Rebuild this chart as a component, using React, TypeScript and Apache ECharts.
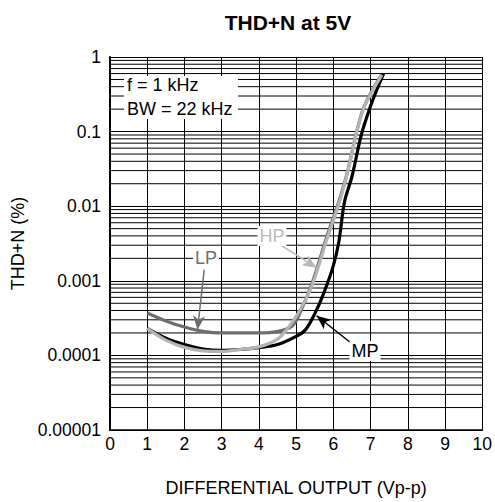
import React, { useEffect, useRef } from 'react';
import * as echarts from 'echarts';

const xTickLabels = ['0', '1', '2', '3', '4', '5', '6', '7', '8', '9', '10'];
const yTickLabels = ['0.00001', '0.0001', '0.001', '0.01', '0.1', '1'];
const gridDecades = [0.00001, 0.0001, 0.001, 0.01, 0.1];
const gridMultipliers = [2, 3, 4, 5, 6, 7, 8, 9];

const mpX = [1, 1.5, 2, 2.5, 3, 3.5, 4, 4.5, 5, 5.25, 5.5, 5.75, 6, 6.15, 6.3, 6.5, 6.75, 7, 7.2, 7.35];
const mpY = [0.00023, 0.00017, 0.00014, 0.000122, 0.000117, 0.00012, 0.000127, 0.00014, 0.00018, 0.00022, 0.00036, 0.0007, 0.0016, 0.0034, 0.0115, 0.025, 0.09, 0.22, 0.4, 0.6];

const lpX = [1, 1.5, 2, 2.5, 3, 3.5, 4, 4.5, 4.9, 5.15, 5.4, 5.6, 5.8, 6, 6.18, 6.4, 6.62, 6.8, 7.02, 7.3];
const lpY = [0.00037, 0.00029, 0.00024, 0.00021, 0.0002, 0.0002, 0.0002, 0.00021, 0.00025, 0.00042, 0.00085, 0.0017, 0.0036, 0.007, 0.013, 0.032, 0.097, 0.2, 0.34, 0.58];

const hpX = [1, 1.5, 2, 2.5, 3, 3.5, 4, 4.5, 4.8, 5, 5.15, 5.4, 5.6, 5.8, 6, 6.18, 6.4, 6.62, 6.8, 7.02, 7.3];
const hpY = [0.00023, 0.00016, 0.000128, 0.000115, 0.000113, 0.00012, 0.00013, 0.000165, 0.00024, 0.00033, 0.00045, 0.0008, 0.00155, 0.0033, 0.0065, 0.012, 0.031, 0.095, 0.195, 0.33, 0.57];

// arrow annotations: [fromX, fromY, toX, toY]
const lpArrow = [2.53, 0.0014, 2.35, 0.00022];
const hpArrow = [4.5, 0.0032, 5.55, 0.0015];
const mpArrow = [6.45, 0.00015, 5.55, 0.00034];

const FONT = '"Liberation Sans", Arial, Helvetica, sans-serif';

const pairs = (xs: number[], ys: number[]) => xs.map((x, i) => [x, ys[i]]);

export default function App() {
  const ref = useRef<HTMLDivElement>(null);
  useEffect(() => {
    if (!ref.current) return;
    const chart = echarts.init(ref.current, null, { renderer: 'svg' });
    const minorValues: number[][] = [];
    gridDecades.forEach((d) => gridMultipliers.forEach((m) => minorValues.push([0, m * d])));
    const arrow = (a: number[], color: string) => ({
      silent: true,
      symbol: ['none', 'arrow'],
      symbolSize: [9, 14],
      label: { show: false },
      lineStyle: { color, width: 1.5, type: 'solid' },
      data: [[{ coord: [a[0], a[1]] }, { coord: [a[2], a[3]] }]],
    });
    const lineSeries = (name: string, xs: number[], ys: number[], color: string, z: number, ma: any) => ({
      name,
      type: 'line',
      data: pairs(xs, ys),
      showSymbol: false,
      smooth: 0.35,
      z,
      lineStyle: { color, width: 3.2 },
      markLine: ma,
    });
    chart.setOption({
      animation: false,
      textStyle: { fontFamily: FONT },
      title: {
        text: 'THD+N at 5V',
        left: 283,
        top: 7,
        textAlign: 'center',
        textStyle: { fontFamily: FONT, fontSize: 21, fontWeight: 'bold', color: '#000' },
      },
      grid: { left: 110, right: 10, top: 57, bottom: 72 },
      xAxis: {
        type: 'value',
        min: 0,
        max: 10,
        interval: 1,
        name: 'DIFFERENTIAL OUTPUT (Vp-p)',
        nameLocation: 'middle',
        nameGap: 49,
        nameTextStyle: { fontFamily: FONT, fontSize: 18, color: '#000' },
        axisLine: { show: true, lineStyle: { color: '#000', width: 1.5 } },
        axisTick: { show: false },
        axisLabel: {
          fontFamily: FONT,
          fontSize: 17.5,
          color: '#000',
          margin: 5,
          formatter: (v: number) => xTickLabels[Math.round(v)] ?? '',
        },
        splitLine: { show: true, lineStyle: { color: '#000', width: 1 } },
      },
      yAxis: {
        type: 'log',
        logBase: 10,
        min: 0.00001,
        max: 1,
        name: 'THD+N (%)',
        nameLocation: 'middle',
        nameGap: 78,
        nameTextStyle: { fontFamily: FONT, fontSize: 18, color: '#000' },
        axisLine: { show: true, lineStyle: { color: '#000', width: 2 } },
        axisTick: { show: false },
        axisLabel: {
          fontFamily: FONT,
          fontSize: 17.5,
          color: '#000',
          margin: 9,
          formatter: (v: number) => yTickLabels[Math.round(Math.log10(v)) + 5] ?? '',
        },
        splitLine: { show: true, lineStyle: { color: '#000', width: 1 } },
      },
      series: [
        {
          name: 'grid',
          type: 'custom',
          data: minorValues,
          z: 1,
          silent: true,
          clip: false,
          renderItem: (params: any, api: any) => {
            const p1 = api.coord([0, api.value(1)]);
            const p2 = api.coord([10, api.value(1)]);
            return {
              type: 'line',
              shape: { x1: p1[0], y1: p1[1], x2: p2[0], y2: p2[1] },
              style: { stroke: '#000', lineWidth: 1 },
            };
          },
        },
        lineSeries('MP', mpX, mpY, '#000000', 3, arrow(mpArrow, '#000000')),
        lineSeries('LP', lpX, lpY, '#6e6e6e', 4, arrow(lpArrow, '#6e6e6e')),
        lineSeries('HP', hpX, hpY, '#b4b4b4', 5, arrow(hpArrow, '#b8b8b8')),
      ],
      graphic: [
        { type: 'rect', z: 10, shape: { x: 124, y: 76, width: 114, height: 43 }, style: { fill: '#fff' } },
        {
          type: 'text', z: 11, x: 127, y: 85,
          style: { text: 'f = 1 kHz', font: `18px ${FONT}`, fill: '#000', verticalAlign: 'middle' },
        },
        {
          type: 'text', z: 11, x: 127, y: 109,
          style: { text: 'BW = 22 kHz', font: `18px ${FONT}`, fill: '#000', verticalAlign: 'middle' },
        },
        {
          type: 'text', z: 11, x: 206, y: 258,
          style: { text: 'LP', font: `18px ${FONT}`, fill: '#6e6e6e', align: 'center', verticalAlign: 'middle', backgroundColor: '#fff', padding: [1, 2] },
        },
        {
          type: 'text', z: 11, x: 272, y: 236,
          style: { text: 'HP', font: `18px ${FONT}`, fill: '#bcbcbc', align: 'center', verticalAlign: 'middle', backgroundColor: '#fff', padding: [1, 2] },
        },
        {
          type: 'text', z: 11, x: 365, y: 351,
          style: { text: 'MP', font: `18px ${FONT}`, fill: '#000', align: 'center', verticalAlign: 'middle', backgroundColor: '#fff', padding: [1, 2] },
        },
      ],
    });
    return () => chart.dispose();
  }, []);
  return <div ref={ref} style={{ position: 'absolute', left: 0, top: 0, width: 495, height: 502 }} />;
}
